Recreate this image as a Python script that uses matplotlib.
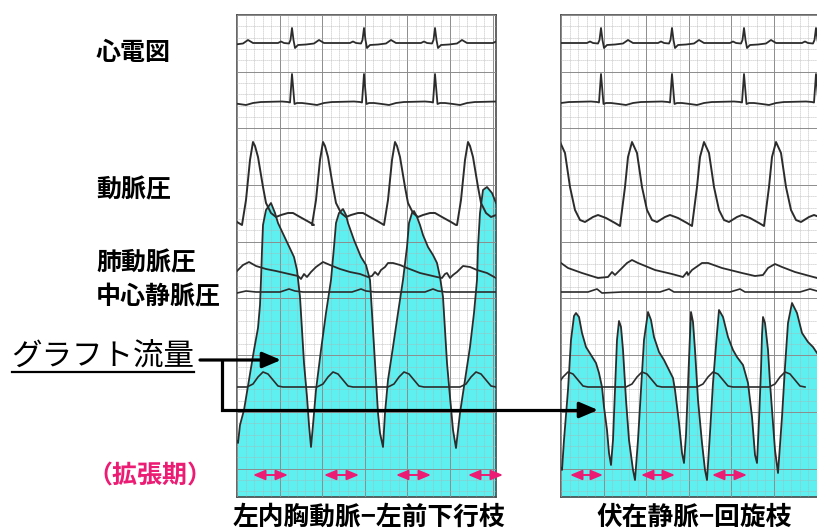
import matplotlib
matplotlib.use("Agg")
import matplotlib.pyplot as plt
import numpy as np

plt.rcParams['font.family'] = ['Noto Sans CJK JP', 'DejaVu Sans']

# ---------------- data (time / amplitude in chart units) ----------------
# ECG (two leads): R-peak times and beat shape
ecg_r_left = [221, 292, 364, 435, 507]
ecg_r_right = [529, 601, 672, 744, 816]
ecg1_dx = [-30, -14, -11, -8, -3, -1.5, 0, 1.5, 3, 6, 14, 22, 27, 32, 40]
ecg1_y = [43, 43, 41.5, 43, 43.5, 40, 28, 40, 48, 45, 44.5, 43.5, 40, 43, 43]
ecg2_dx = [-30, -10, -4, -2, 0, 2.5, 5, 10, 18, 25, 32, 40]
ecg2_y = [102, 101.5, 102, 102.5, 74, 104, 103, 103, 104, 105, 103, 102]

# Arterial pressure: systolic peak times and beat shape
art_peak_left = [181, 253, 323, 395, 468]
art_peak_right = [560, 632, 704, 776]
art_dx_left = [-11, -7, -3, 0, 2, 5, 10, 13, 18, 23, 28, 35, 40, 47, 56, 61]
art_y_left = [225, 200, 160, 142, 146, 157, 187, 203, 213, 217, 215, 213, 213, 217, 222, 225]
art_dx_right = [-12, -7, -4, 0, 5, 10, 15, 20, 25, 33, 38, 46, 55, 60]
art_y_right = [226, 187, 157, 142, 153, 187, 210, 220, 222, 217, 215, 218, 223, 226]

# Pulmonary artery pressure
pa_left_x = [237, 243, 249, 256, 266, 276, 289, 298, 301, 304, 307, 311, 316, 323, 330, 340, 350,
             360, 368, 372, 375, 378, 381, 385, 388, 393, 400, 407, 420, 437, 442, 445, 447, 450,
             453, 457, 463, 470, 477, 487, 496]
pa_left_y = [271, 265, 262, 266, 269, 271, 274, 276, 279, 274, 277, 272, 267, 262, 265, 269, 272,
             274, 277, 276, 272, 275, 270, 267, 263, 263, 265, 268, 273, 277, 278, 274, 273, 278,
             275, 272, 266, 267, 270, 273, 278]
pa_right_x = [561, 568, 582, 598, 608, 612, 615, 620, 627, 632, 638, 655, 672, 683, 687, 688, 692,
              702, 708, 722, 742, 755, 763, 768, 775, 782, 795, 817]
pa_right_y = [263, 268, 273, 278, 277, 272, 275, 270, 263, 260, 263, 270, 274, 277, 272, 275, 270,
              263, 263, 268, 273, 276, 275, 268, 264, 267, 272, 278]

# Central venous pressure
cvp_left_x = [237, 246, 256, 270, 280, 289, 295, 303, 320, 340, 352, 361, 366, 375, 395, 415, 425,
              433, 438, 446, 470, 496]
cvp_left_y = [293, 291, 292, 292, 292, 289, 291, 292, 292, 292, 292, 289, 291, 292, 292, 292, 292,
              289, 291, 292, 292, 292]
cvp_right_x = [561, 588, 597, 602, 622, 640, 660, 669, 674, 700, 730, 740, 745, 780, 800, 810, 817]
cvp_right_y = [292, 292, 289, 293, 292, 292, 292, 289, 292, 292, 292, 289, 292, 292, 292, 289, 291]

# Low-amplitude wave (lower trace)
wave_peak_left = [192, 263, 333, 404, 476]
wave_peak_right = [497, 568, 642, 713, 785]
wave_dx = [-16, -10, -5, 0, 5, 10, 15, 20]
wave_y = [387, 384, 377, 372, 374, 380, 386, 387]

# Graft flow
flow_left_x = [237, 238, 240, 244, 249, 254, 258, 260, 261, 262, 263, 266, 271, 275, 278, 286, 294,
               297, 300, 302, 304, 307, 309, 311,
               313, 316, 321, 326, 331, 334, 336, 339, 343, 346, 348, 354, 361, 366, 370, 372, 375,
               378, 380, 383,
               385, 388, 393, 398, 403, 407, 409, 412, 414, 417, 420, 423, 428, 433, 437, 440, 443,
               445, 447, 450, 453, 456,
               460, 465, 470, 474, 477, 478, 480, 483, 487, 492, 496]
flow_left_y = [441, 443, 425, 410, 380, 350, 328, 305, 280, 250, 225, 210, 203, 213, 223, 240, 257,
               270, 297, 330, 363, 397, 425, 447,
               425, 390, 350, 313, 280, 247, 223, 213, 209, 215, 223, 240, 257, 265, 280, 313, 363,
               413, 433, 447,
               413, 380, 347, 313, 280, 247, 223, 213, 211, 217, 225, 235, 247, 255, 263, 277, 297,
               330, 363, 397, 430, 448,
               413, 380, 347, 313, 280, 247, 213, 190, 187, 193, 203]
flow_right_x = [561, 562, 564, 568, 571, 574, 576, 579, 582, 586, 591, 596, 599, 602, 604, 607, 609,
                611,
                613, 615, 617, 619, 621, 623, 626, 629, 633, 635,
                638, 641, 644, 648, 651, 654, 659, 664, 669, 673, 675, 679, 682, 684,
                686, 688, 690, 691, 693, 695, 698, 702, 705, 707,
                710, 713, 717, 719, 723, 728, 733, 737, 743, 748, 752, 755, 757,
                759, 761, 762, 763, 765, 768, 770, 775, 778,
                782, 785, 788, 792, 797, 802, 808, 813, 817]
flow_right_y = [468, 470, 440, 390, 340, 316, 313, 317, 333, 347, 355, 363, 373, 387, 407, 430, 453,
                465,
                440, 390, 340, 321, 327, 350, 400, 440, 470, 480,
                440, 390, 340, 312, 320, 337, 352, 360, 370, 378, 390, 423, 453, 463,
                435, 385, 335, 312, 322, 350, 400, 443, 470, 480,
                433, 383, 333, 310, 317, 337, 350, 357, 365, 383, 417, 455, 463,
                420, 370, 335, 317, 323, 350, 383, 450, 473,
                417, 367, 323, 303, 313, 333, 342, 347, 353]

# Diastolic periods (pink double arrows)
dia_left_start = [253, 324, 396, 468]
dia_left_end = [288, 359, 431, 503]
dia_right_start = [570, 641, 712, 785]
dia_right_end = [603, 675, 747, 822]

trace_labels = ['心電図', '動脈圧', '肺動脈圧', '中心静脈圧']
trace_label_y = [53, 190, 263, 297]
flow_label = 'グラフト流量'
phase_label = '（拡張期）'
panel_titles = ['左内胸動脈−左前下行枝', '伏在静脈−回旋枝']

# ---------------- figure ----------------
W, H = 817, 529
fig = plt.figure(figsize=(W / 100, H / 100), dpi=100)

TRACE = '#2c2c2c'
CYAN = '#5EF0F0'
PINK = '#EC1C74'


def beats(times, dx, dy):
    xs, ys = [], []
    for t in times:
        xs.extend([t + d for d in dx])
        ys.extend(dy)
    return xs, ys


def make_panel(x0, x1, right_open=False):
    top, bot = 15, 497
    ax = fig.add_axes([x0 / W, 1 - bot / H, (x1 - x0) / W, (bot - top) / H])
    ax.set_xlim(x0, x1)
    ax.set_ylim(bot, top)
    ax.set_xticks(np.arange(x0, x1 + 1, 42.6))
    ax.set_xticks(np.arange(x0, x1 + 1, 42.6 / 5), minor=True)
    ax.set_yticks(np.arange(top, bot + 1, 56.7))
    ax.set_yticks(np.arange(top, bot + 1, 56.7 / 5), minor=True)
    ax.tick_params(which='both', length=0, labelbottom=False, labelleft=False)
    ax.grid(which='major', color='#8c8c8c', lw=0.7)
    ax.grid(which='minor', color='#b0b0b0', lw=0.6, ls=(0, (1, 1.4)))
    ax.set_axisbelow(False)
    for s in ax.spines.values():
        s.set_color('#4a4a4a')
        s.set_linewidth(1.2)
    if right_open:
        ax.spines['right'].set_visible(False)
    return ax


panels = [
    dict(ax=make_panel(237, 496), ecg_r=ecg_r_left, art_p=art_peak_left, art_dx=art_dx_left,
         art_y=art_y_left, pa=(pa_left_x, pa_left_y), cvp=(cvp_left_x, cvp_left_y),
         wave=wave_peak_left, flow=(flow_left_x, flow_left_y)),
    dict(ax=make_panel(561, 817, right_open=True), ecg_r=ecg_r_right, art_p=art_peak_right,
         art_dx=art_dx_right, art_y=art_y_right, pa=(pa_right_x, pa_right_y),
         cvp=(cvp_right_x, cvp_right_y), wave=wave_peak_right, flow=(flow_right_x, flow_right_y)),
]

for p in panels:
    ax = p['ax']
    fx, fy = p['flow']
    ax.fill_between(fx, fy, 497, color=CYAN, lw=0, zorder=1)
    ax.plot(fx, fy, color=TRACE, lw=1.3, zorder=3)
    for dx, dy in [(ecg1_dx, ecg1_y), (ecg2_dx, ecg2_y)]:
        xs, ys = beats(p['ecg_r'], dx, dy)
        ax.plot(xs, ys, color=TRACE, lw=1.3, zorder=3)
    xs, ys = beats(p['art_p'], p['art_dx'], p['art_y'])
    ax.plot(xs, ys, color=TRACE, lw=1.4, zorder=3)
    ax.plot(*p['pa'], color=TRACE, lw=1.3, zorder=3)
    ax.plot(*p['cvp'], color=TRACE, lw=1.2, zorder=3)
    xs, ys = beats(p['wave'], wave_dx, wave_y)
    ax.plot(xs, ys, color=TRACE, lw=1.2, zorder=3)

# overlay for labels and arrows
ov = fig.add_axes([0, 0, 1, 1], zorder=10)
ov.set_xlim(0, W)
ov.set_ylim(H, 0)
ov.axis('off')
ov.patch.set_alpha(0)

for lab, y in zip(trace_labels, trace_label_y):
    ov.text(96, y, lab, fontsize=18, ha='left', va='center', color='black', weight='bold')

ov.text(11, 357, flow_label, fontsize=22, ha='left', va='center', color='black')
ov.plot([12, 194], [372, 372], color='black', lw=1.6)
ov.text(150, 477, phase_label, fontsize=18, ha='center', va='center', color=PINK, weight='bold')

ov.text(369, 517, panel_titles[0], fontsize=18.5, ha='center', va='center', weight='bold')
ov.text(694, 517, panel_titles[1], fontsize=18.5, ha='center', va='center', weight='bold')

# black pointer arrows
arrow_kw = dict(arrowstyle='-|>,head_length=0.75,head_width=0.32', color='black', lw=2.3,
                shrinkA=0, shrinkB=0, mutation_scale=15)
ov.annotate('', xy=(281, 360), xytext=(200, 360), arrowprops=arrow_kw)
ov.plot([222, 222, 585], [360, 410, 410], color='black', lw=2.3, solid_joinstyle='miter',
        solid_capstyle='butt')
ov.annotate('', xy=(598, 410), xytext=(580, 410), arrowprops=arrow_kw)

# pink diastole arrows
pink_kw = dict(arrowstyle='<|-|>,head_length=0.6,head_width=0.25', color=PINK, lw=1.4,
               shrinkA=0, shrinkB=0, mutation_scale=12)
for s, e in list(zip(dia_left_start, dia_left_end)) + list(zip(dia_right_start, dia_right_end)):
    ov.annotate('', xy=(e, 475), xytext=(s, 475), arrowprops=pink_kw)

fig.savefig('out.png', dpi=100)
